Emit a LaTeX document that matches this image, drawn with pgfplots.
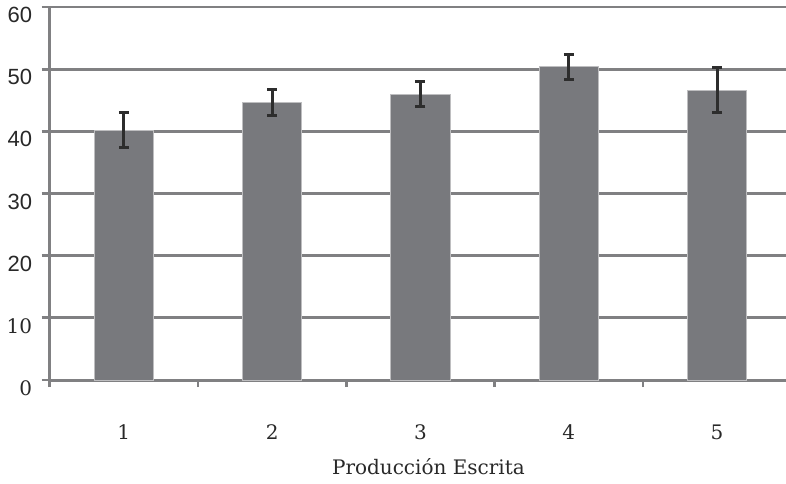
\documentclass[border=0pt]{standalone}
\usepackage{pgfplots}
\pgfplotsset{compat=1.18}
\usepackage{fontspec}
\setmainfont{DejaVu Serif}
\newfontfamily\lsans{Liberation Sans}
\definecolor{gridgray}{RGB}{128,128,130}
\definecolor{barfill}{RGB}{120,121,125}
\definecolor{barline}{RGB}{190,190,192}
\definecolor{errc}{RGB}{45,45,45}
\definecolor{txt}{RGB}{40,40,40}
\begin{document}
\begin{tikzpicture}
\useasboundingbox (-49.7pt,-103pt) rectangle (736.3pt,380pt);
\begin{axis}[
  at={(0,0)}, anchor=south west,
  scale only axis, width=741.5pt, height=373pt,
  ybar, bar width=0.4,
  xmin=0.5, xmax=5.5, ymin=0, ymax=60,
  ytick={0,10,...,60},
  yticklabels={0,10,{\lsans\fontsize{22}{24}\selectfont 20},{\lsans\fontsize{22}{24}\selectfont 30},{\lsans\fontsize{22}{24}\selectfont 40},{\lsans\fontsize{22}{24}\selectfont 50},{\lsans\fontsize{22}{24}\selectfont 60}},
  xtick={1,2,3,4,5},
  minor xtick={0.5,1.5,2.5,3.5,4.5},
  axis x line*=bottom, axis y line*=left,
  axis line style={draw=none},
  ymajorgrids,
  every axis grid/.style={line width=2.8pt, gridgray},
  tick align=outside,
  major tick length=8pt,
  minor tick length=7pt,
  major x tick style={draw=none},
  minor x tick style={line width=2.8pt, gridgray},
  major y tick style={line width=2.8pt, gridgray},
  /pgf/number format/assume math mode=true,
  tick label style={font=\fontsize{20}{22}\selectfont, text=txt},
  x tick label style={yshift=-33pt},
  y tick label style={xshift=-6pt, yshift=-8pt},
  xlabel={Producción Escrita},
  xlabel style={font=\fontsize{20}{22}\selectfont, text=txt, yshift=-12pt, xshift=8pt},
  clip=false,
]
\draw[gridgray, line width=3pt] (rel axis cs:0,1) -- ([yshift=-7pt]rel axis cs:0,0);
\draw[gridgray, line width=3pt] (rel axis cs:0,0) -- (rel axis cs:1,0);
\addplot[fill=barfill, draw=barline, line width=0.8pt,
  error bars/.cd, y dir=both, y explicit,
  error bar style={line width=3pt, errc, solid},
  error mark=|,
  error mark options={line width=3pt, errc, draw=errc, mark size=5pt}]
  table[x=x, y=y, y error=e] {
x y e
1 40.2 2.8
2 44.6 2.1
3 46.0 2.0
4 50.4 2.0
5 46.6 3.6
};
\end{axis}
\end{tikzpicture}
\end{document}
